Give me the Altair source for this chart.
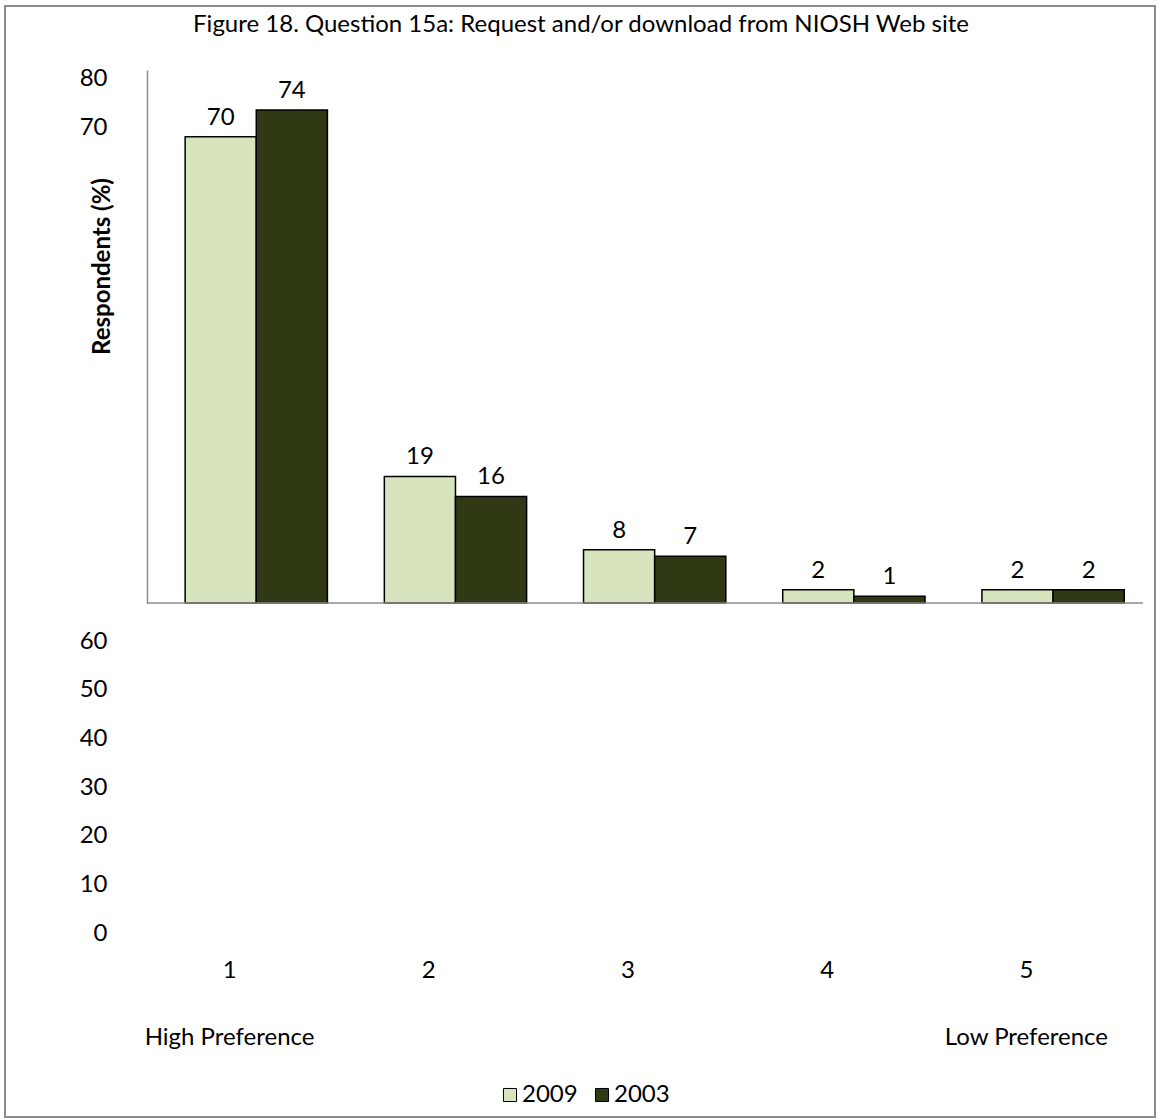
import altair as alt
import pandas as pd

# Survey answers: share of respondents (%) at each preference level
categories = ["1", "2", "3", "4", "5"]
years = ["2009", "2003"]
pct_2009 = [70, 19, 8, 2, 2]
pct_2003 = [74, 16, 7, 1, 2]
y_ticks = [0, 10, 20, 30, 40, 50, 60, 70, 80]
bar_colors = ["#D7E4BD", "#2F3A15"]

rows = []
for level, a, b in zip(categories, pct_2009, pct_2003):
    rows.append({"level": level, "year": "2009", "pct": a})
    rows.append({"level": level, "year": "2003", "pct": b})
df = pd.DataFrame(rows)

FONT = "Lato"
FS = 24
W, H = 996, 863      # full plotting frame
BAR_H = 533          # height of the bar region inside the frame
GRAY = "#8c8c8c"

x_enc = alt.X(
    "level:N",
    sort=categories,
    scale=alt.Scale(paddingInner=0, paddingOuter=0),
    axis=alt.Axis(
        title=None, domain=False, ticks=False, grid=False,
        labelAngle=0, labelPadding=25, labelOffset=-17,
        labelFont=FONT, labelFontSize=FS, labelColor="black",
        labelLineHeight=67,
        labelExpr="datum.value == '1' ? ['1', 'High Preference'] : "
                  "datum.value == '5' ? ['5', 'Low Preference'] : datum.value",
    ),
)
xoff_enc = alt.XOffset(
    "year:N", sort=years,
    scale=alt.Scale(paddingInner=0, paddingOuter=0.4, align=0.67),
)
bar_y = alt.Scale(domain=[0, 80], range=[BAR_H, 0], nice=False, zero=True)

bars = alt.Chart(df).mark_bar(stroke="black", strokeWidth=1.5).encode(
    x=x_enc,
    xOffset=xoff_enc,
    y=alt.Y(
        "pct:Q", scale=bar_y,
        axis=alt.Axis(title=None, labels=False, ticks=False, grid=False,
                      domain=True, domainColor=GRAY, domainWidth=1.5, orient="left"),
    ),
    color=alt.Color(
        "year:N", sort=years,
        scale=alt.Scale(domain=years, range=bar_colors),
        legend=alt.Legend(
            title=None, orient="none", legendX=351, legendY=1013,
            direction="horizontal", symbolType="square", symbolSize=170,
            symbolStrokeColor="black", symbolStrokeWidth=1,
            labelFont=FONT, labelFontSize=FS, labelColor="black",
            columnPadding=12, labelOffset=0,
        ),
    ),
)

values = alt.Chart(df).mark_text(
    dy=-19, font=FONT, fontSize=FS, color="black", baseline="middle"
).encode(
    x=x_enc, xOffset=xoff_enc, y=alt.Y("pct:Q", scale=bar_y), text="pct:Q"
)

baseline = alt.Chart(pd.DataFrame({"base": [0]})).mark_rule(
    color=GRAY, strokeWidth=1.5
).encode(y=alt.Y("base:Q", scale=bar_y))

tick_labels = alt.Chart(pd.DataFrame({"tick": y_ticks})).mark_point(opacity=0).encode(
    y=alt.Y(
        "tick:Q",
        scale=alt.Scale(domain=[0, 60, 70, 80], range=[863, 571, 57, 8],
                        nice=False, zero=False),
        axis=alt.Axis(
            values=y_ticks, orient="left", domain=False, ticks=False, grid=False,
            labelPadding=40, labelFont=FONT, labelFontSize=FS, labelColor="black",
            title="Respondents (%)", titleFont=FONT, titleFontSize=FS,
            titleFontWeight="bold", titleColor="black",
            titleX=-45, titleY=196, titleAngle=-90, titleBaseline="middle",
        ),
    )
)

frame = alt.Chart(pd.DataFrame({"f": [0]})).mark_rect(
    fillOpacity=0, stroke=GRAY, strokeWidth=2
).encode(
    x=alt.value(-142), x2=alt.value(1008), y=alt.value(-64), y2=alt.value(1047)
)

chart = (
    alt.layer(alt.layer(bars, values, baseline), tick_labels, frame)
    .resolve_scale(y="independent")
    .properties(
        width=W, height=H,
        title=alt.TitleParams(
            "Figure 18. Question 15a: Request and/or download from NIOSH Web site",
            font=FONT, fontSize=FS, fontWeight="normal", color="black",
            anchor="middle", dx=-64, offset=-32,
        ),
        autosize=alt.AutoSizeParams(type="none"),
        padding={"left": 147, "top": 70, "right": 17, "bottom": 185},
        background="white",
    )
    .configure_view(stroke=None)
)

chart.save("out.html", embed_options={"renderer": "svg", "actions": False})
